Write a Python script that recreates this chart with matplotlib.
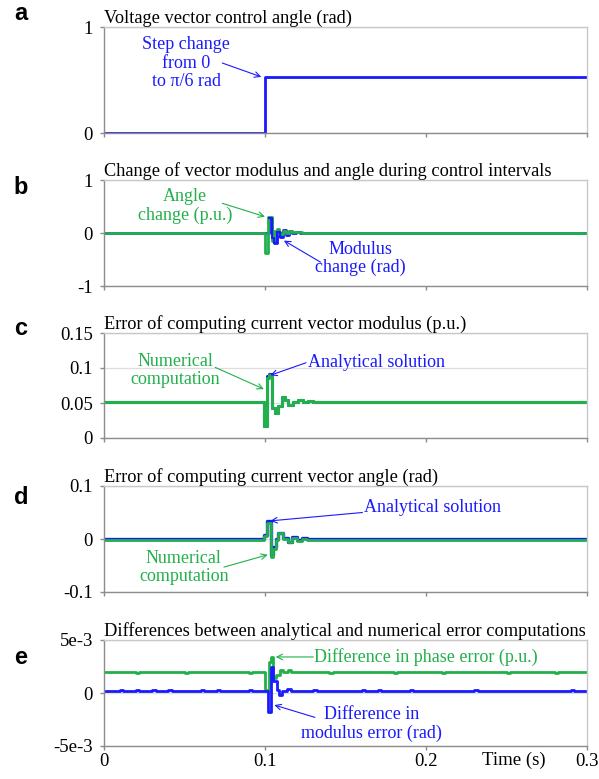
import numpy as np
import matplotlib
matplotlib.use("Agg")
import matplotlib.pyplot as plt
from matplotlib.ticker import FixedLocator, FixedFormatter

plt.rcParams['font.family'] = ['Liberation Serif', 'DejaVu Serif']
plt.rcParams['axes.unicode_minus'] = False

BLUE = '#1a1aff'
GREEN = '#22b04b'

# ---- data (time in s) ----
# a: control angle step
t_a = [0.0, 0.1, 0.3]
angle_a = [0.0, 0.5236, 0.5236]

# b: angle change (p.u.) and modulus change (rad)
t_b_ang = [0.0, 0.1000, 0.1019, 0.1045, 0.1058, 0.1075, 0.1090, 0.1110, 0.1130,
           0.1150, 0.1170, 0.1200, 0.1230, 0.1260, 0.3]
ang_b = [0.0, -0.38, 0.31, -0.16, 0.04, 0.07, -0.02, 0.04, 0.0,
         0.03, 0.01, 0.02, 0.005, 0.0, 0.0]
t_b_mod = [0.0, 0.1025, 0.1043, 0.1056, 0.1075, 0.1093, 0.1112, 0.1130, 0.1150,
           0.1170, 0.1190, 0.1215, 0.1240, 0.3]
mod_b = [0.0, 0.28, -0.10, -0.19, 0.02, -0.08, 0.05, -0.03, 0.03,
         0.0, 0.02, 0.005, 0.0, 0.0]

# c: error of current vector modulus (p.u.)
t_c = [0.0, 0.0994, 0.1012, 0.1025, 0.1043, 0.1062, 0.1081, 0.1106, 0.1124,
       0.1143, 0.1174, 0.1205, 0.1236, 0.1270, 0.1300, 0.1340, 0.3]
num_c = [0.052, 0.017, 0.086, 0.090, 0.043, 0.036, 0.046, 0.059, 0.054,
         0.047, 0.052, 0.055, 0.051, 0.053, 0.052, 0.052, 0.052]
ana_c = [0.052, 0.017, 0.089, 0.092, 0.043, 0.036, 0.046, 0.059, 0.054,
         0.047, 0.052, 0.055, 0.051, 0.053, 0.052, 0.052, 0.052]

# d: error of current vector angle (rad)
t_d = [0.0, 0.0994, 0.1012, 0.1037, 0.1050, 0.1068, 0.1081, 0.1112, 0.1143,
       0.1168, 0.1199, 0.1230, 0.1260, 0.3]
num_d = [-0.001, 0.006, 0.030, -0.034, -0.018, -0.001, 0.011, 0.0, -0.006,
         0.002, -0.003, 0.0, -0.001, -0.001]
ana_d = [0.0005, 0.007, 0.034, -0.030, -0.016, 0.0, 0.012, 0.001, -0.005,
         0.003, -0.002, 0.001, 0.0005, 0.0005]

# e: differences between analytical and numerical computations
t_e_ph = [0.0, 0.1000, 0.1027, 0.1035, 0.1052, 0.1068, 0.1093, 0.1114, 0.1143,
          0.1164, 0.1190, 0.3]
ph_e = [2.0e-3, 0.3e-3, 2.9e-3, 3.4e-3, 1.4e-3, 1.7e-3, 2.2e-3, 2.0e-3, 2.2e-3,
        2.0e-3, 2.0e-3, 2.0e-3]
t_e_mod = [0.0, 0.1020, 0.1037, 0.1052, 0.1072, 0.1087, 0.1108, 0.1139, 0.1164,
           0.3]
mod_e = [0.2e-3, -1.8e-3, 2.5e-3, 1.1e-3, 0.3e-3, -0.2e-3, 0.2e-3, 0.4e-3, 0.2e-3,
         0.2e-3]
blips_mod = [0.010, 0.020, 0.030, 0.040, 0.060, 0.070, 0.090, 0.130, 0.160,
             0.170, 0.190, 0.230, 0.290]
blips_ph = [0.020, 0.050, 0.090, 0.140, 0.180, 0.210, 0.250, 0.280]
blip_size = 0.1e-3

x_ticks = [0.0, 0.1, 0.2, 0.3]


def add_blips(t, v, times, size):
    pts = sorted(zip(t, v))
    for bt in times:
        base = [val for tt, val in pts if tt <= bt][-1]
        pts += [(bt, base + size), (bt + 0.002, base)]
    pts.sort()
    return [p[0] for p in pts], [p[1] for p in pts]


def style_axis(ax, ylim, yticks, ylabels, title, show_x=False):
    ax.set_xlim(0, 0.3)
    ax.set_ylim(*ylim)
    ax.yaxis.set_major_locator(FixedLocator(yticks))
    ax.yaxis.set_major_formatter(FixedFormatter(ylabels))
    ax.xaxis.set_major_locator(FixedLocator(x_ticks))
    if show_x:
        ax.set_xticklabels(['0', '0.1', '0.2', '0.3'])
    else:
        ax.set_xticklabels([])
    for side in ['left', 'bottom']:
        ax.spines[side].set_color('#8c8c8c')
        ax.spines[side].set_linewidth(1.0)
    for side in ['top', 'right']:
        ax.spines[side].set_color('#c8c8c8')
        ax.spines[side].set_linewidth(1.0)
    ax.tick_params(axis='both', direction='out', length=3, width=1,
                   color='#8c8c8c', labelsize=13.5)
    ax.tick_params(axis='y', pad=5)
    ax.tick_params(axis='x', pad=2)
    ax.grid(axis='y', color='#dedede', linewidth=0.9)
    ax.set_axisbelow(True)
    ax.set_title(title, loc='left', fontsize=13.2, pad=2)


fig = plt.figure(figsize=(5.99, 7.79), dpi=100)
left, width = 104 / 599, 483 / 599
H = 779.0
tops = [27, 180, 333, 486, 640]
bots = [133, 286, 438, 592, 746]
axes = [fig.add_axes([left, 1 - b / H, width, (b - t) / H]) for t, b in zip(tops, bots)]
ax_a, ax_b, ax_c, ax_d, ax_e = axes

arrow = dict(arrowstyle='->', lw=0.8, shrinkA=0, shrinkB=1)

# a
ax_a.step(t_a, angle_a, where='post', color=BLUE, lw=2)
style_axis(ax_a, (0, 1), [0, 1], ['0', '1'], 'Voltage vector control angle (rad)')
ax_a.text(0.051, 0.66, 'Step change\nfrom 0\nto \u03c0/6 rad', ha='center', va='center',
          color=BLUE, fontsize=13, linespacing=1.15)
ax_a.annotate('', xy=(0.0985, 0.525), xytext=(0.0735, 0.66),
              arrowprops=dict(arrow, color=BLUE))

# b
ax_b.step(t_b_mod, mod_b, where='post', color=BLUE, lw=2)
ax_b.step(t_b_ang, ang_b, where='post', color=GREEN, lw=2)
ax_b.step(t_b_mod[1:6], mod_b[1:6], where='post', color=BLUE, lw=1.6)
style_axis(ax_b, (-1, 1), [-1, 0, 1], ['-1', '0', '1'],
           'Change of vector modulus and angle during control intervals')
ax_b.text(0.0505, 0.51, 'Angle\nchange (p.u.)', ha='center', va='center',
          color=GREEN, fontsize=13, linespacing=1.1)
ax_b.annotate('', xy=(0.1008, 0.30), xytext=(0.0735, 0.56),
              arrowprops=dict(arrow, color=GREEN))
ax_b.text(0.1595, -0.48, 'Modulus\nchange (rad)', ha='center', va='center',
          color=BLUE, fontsize=13, linespacing=1.1)
ax_b.annotate('', xy=(0.1110, -0.13), xytext=(0.1345, -0.55),
              arrowprops=dict(arrow, color=BLUE))

# c
ax_c.step(t_c, ana_c, where='post', color=BLUE, lw=2.2)
ax_c.step(t_c, num_c, where='post', color=GREEN, lw=2.2)
style_axis(ax_c, (0, 0.15), [0, 0.05, 0.1, 0.15], ['0', '0.05', '0.1', '0.15'],
           'Error of computing current vector modulus (p.u.)')
ax_c.text(0.0445, 0.096, 'Numerical\ncomputation', ha='center', va='center',
          color=GREEN, fontsize=13, linespacing=1.1)
ax_c.annotate('', xy=(0.1001, 0.069), xytext=(0.069, 0.101),
              arrowprops=dict(arrow, color=GREEN))
ax_c.text(0.1265, 0.1075, 'Analytical solution', ha='left', va='center',
          color=BLUE, fontsize=13)
ax_c.annotate('', xy=(0.1025, 0.089), xytext=(0.1255, 0.1075),
              arrowprops=dict(arrow, color=BLUE))

# d
ax_d.step(t_d, ana_d, where='post', color=BLUE, lw=2.4)
ax_d.step(t_d, num_d, where='post', color=GREEN, lw=2.0)
style_axis(ax_d, (-0.1, 0.1), [-0.1, 0, 0.1], ['-0.1', '0', '0.1'],
           'Error of computing current vector angle (rad)')
ax_d.text(0.0495, -0.054, 'Numerical\ncomputation', ha='center', va='center',
          color=GREEN, fontsize=13, linespacing=1.1)
ax_d.annotate('', xy=(0.1025, -0.029), xytext=(0.0745, -0.053),
              arrowprops=dict(arrow, color=GREEN))
ax_d.text(0.1615, 0.059, 'Analytical solution', ha='left', va='center',
          color=BLUE, fontsize=13)
ax_d.annotate('', xy=(0.1025, 0.034), xytext=(0.1605, 0.050),
              arrowprops=dict(arrow, color=BLUE))

# e
te_m, ve_m = add_blips(t_e_mod, mod_e, blips_mod, blip_size)
te_p, ve_p = add_blips(t_e_ph, ph_e, blips_ph, -blip_size * 0.7)
ax_e.step(te_p, ve_p, where='post', color=GREEN, lw=2)
ax_e.step(te_m, ve_m, where='post', color=BLUE, lw=2)
style_axis(ax_e, (-0.005, 0.005), [-0.005, 0, 0.005], ['-5e-3', '0', '5e-3'],
           'Differences between analytical and numerical error computations',
           show_x=True)
ax_e.text(0.1305, 0.0034, 'Difference in phase error (p.u.)', ha='left', va='center',
          color=GREEN, fontsize=13)
ax_e.annotate('', xy=(0.1058, 0.0034), xytext=(0.1300, 0.0034),
              arrowprops=dict(arrow, color=GREEN))
ax_e.text(0.1660, -0.0029, 'Difference in\nmodulus error (rad)', ha='center', va='center',
          color=BLUE, fontsize=13, linespacing=1.1)
ax_e.annotate('', xy=(0.1050, -0.0011), xytext=(0.1310, -0.0023),
              arrowprops=dict(arrow, color=BLUE))
ax_e.text(0.2745, -0.0055, 'Time (s)', ha='right', va='top', fontsize=13.5)

# panel letters
for lab, y in zip('abcde', [14, 188, 329, 497, 657]):
    fig.text(21 / 599, 1 - y / H, lab, fontsize=17, fontweight='bold',
             family=['Liberation Sans', 'DejaVu Sans'], ha='center', va='center')

fig.savefig('out.png', dpi=100)
